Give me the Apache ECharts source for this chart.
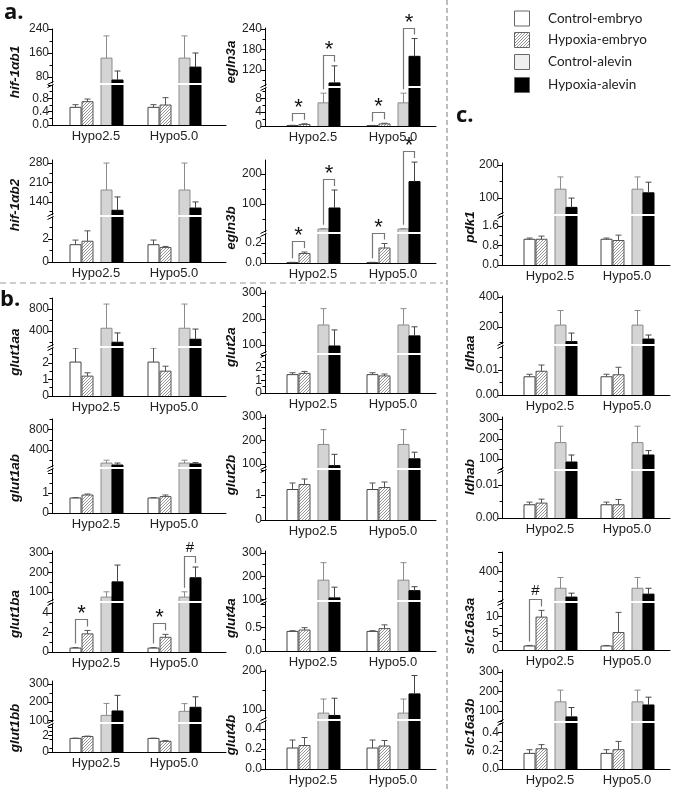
<!DOCTYPE html>
<html><head><meta charset="utf-8">
<script src="https://cdn.jsdelivr.net/npm/echarts@6/dist/echarts.min.js"></script>
<style>html,body{margin:0;padding:0;background:#fff}#c{width:675px;height:792px}</style>
</head><body><div id="c"></div>
<script>
// ---------------- DATA ----------------
const categories = ['Hypo2.5', 'Hypo5.0'];
const groups = ['Control-embryo', 'Hypoxia-embryo', 'Control-alevin', 'Hypoxia-alevin'];

// mean and SD: [Hypo2.5: CE, HE, CA, HA,  Hypo5.0: CE, HE, CA, HA]
const hif1ab1 = [0.53, 0.70, 143, 70, 0.53, 0.60, 143, 113];
const hif1ab1_sd = [0.08, 0.08, 74, 30, 0.08, 0.22, 74, 47];
const hif1ab2 = [1.5, 1.8, 183, 110, 1.5, 1.25, 183, 118];
const hif1ab2_sd = [0.4, 0.9, 97, 48, 0.4, 0.1, 97, 22];
const egln3a = [0.15, 0.45, 6.7, 82, 0.12, 0.6, 6.7, 160];
const egln3a_sd = [0.05, 0.2, 2.8, 50, 0.05, 0.2, 2.8, 52];
const egln3b = [0.005, 0.095, 17, 87, 0.005, 0.15, 17, 175];
const egln3b_sd = [0.002, 0.015, 1, 60, 0.002, 0.045, 1, 65];
const glut1aa = [2.05, 1.2, 450, 195, 2.05, 1.5, 450, 250];
const glut1aa_sd = [0.85, 0.2, 440, 170, 0.85, 0.3, 440, 185];
const glut1ab = [0.75, 0.9, 152, 114, 0.75, 0.82, 152, 135];
const glut1ab_sd = [0.02, 0.05, 55, 38, 0.02, 0.08, 55, 25];
const glut1ba = [0.4, 1.85, 74, 152, 0.4, 1.5, 74, 173];
const glut1ba_sd = [0.05, 0.35, 27, 86, 0.05, 0.3, 27, 55];
const glut1bb = [1.65, 1.88, 128, 152, 1.65, 1.3, 150, 172];
const glut1bb_sd = [0.03, 0.05, 65, 85, 0.03, 0.08, 42, 57];
const glut2a = [1.45, 1.55, 177, 96, 1.45, 1.35, 177, 135];
const glut2a_sd = [0.15, 0.15, 63, 62, 0.15, 0.15, 63, 35];
const glut2b = [1.22, 1.42, 183, 93, 1.22, 1.3, 183, 122];
const glut2b_sd = [0.26, 0.22, 63, 48, 0.26, 0.22, 63, 28];
const glut4a = [0.42, 0.45, 183, 107, 0.42, 0.48, 183, 138];
const glut4a_sd = [0.015, 0.05, 75, 46, 0.015, 0.08, 75, 17];
const glut4b = [0.21, 0.235, 92, 86, 0.21, 0.23, 92, 141];
const glut4b_sd = [0.08, 0.08, 36, 44, 0.08, 0.055, 36, 47];
const pdk1 = [1.05, 1.05, 127, 72, 1.05, 1.0, 127, 116];
const pdk1_sd = [0.05, 0.13, 37, 28, 0.05, 0.22, 37, 32];
const ldhaa = [0.0073, 0.0095, 213, 103, 0.0073, 0.0081, 213, 120];
const ldhaa_sd = [0.001, 0.0025, 97, 57, 0.001, 0.003, 97, 27];
const ldhab = [0.004, 0.0045, 182, 85, 0.004, 0.004, 182, 120];
const ldhab_sd = [0.0008, 0.0012, 82, 35, 0.0008, 0.0016, 82, 22];
const slc16a3a = [1.2, 9.8, 230, 140, 1.2, 5.2, 230, 170];
const slc16a3a_sd = [0.15, 2, 110, 40, 0.15, 6, 110, 60];
const slc16a3b = [0.17, 0.22, 147, 70, 0.17, 0.21, 147, 131];
const slc16a3b_sd = [0.04, 0.045, 60, 48, 0.04, 0.09, 60, 40];

// tick labels: upper (above break) and lower (below break) segments
const hif1ab1_up = [80, 160, 240];     const hif1ab1_lo = [0, 0.4, 0.8];
const hif1ab2_up = [140, 210, 280];    const hif1ab2_lo = [0, 2];
const egln3a_up = [120, 180, 240];     const egln3a_lo = [0, 4, 8];
const egln3b_up = [100, 200];          const egln3b_lo = [0, 0.2];
const glut1aa_up = [400, 800];         const glut1aa_lo = [0, 1, 2];
const glut1ab_up = [400, 800];         const glut1ab_lo = [0, 1];
const glut1ba_up = [100, 200, 300];    const glut1ba_lo = [0, 2, 4];
const glut1bb_up = [100, 200, 300];    const glut1bb_lo = [0, 1, 2];
const glut2a_up = [100, 200, 300];     const glut2a_lo = [0, 1, 2];
const glut2b_up = [100, 200, 300];     const glut2b_lo = [0, 1];
const glut4a_up = [100, 200, 300];     const glut4a_lo = [0, 0.5];
const glut4b_up = [100, 200];          const glut4b_lo = [0, 0.2, 0.4];
const pdk1_up = [100, 200];            const pdk1_lo = [0, 0.8, 1.6];
const ldhaa_up = [200, 400];           const ldhaa_lo = [0, 0.01];
const ldhab_up = [100, 200, 300];      const ldhab_lo = [0, 0.01];
const slc16a3a_up = [400];             const slc16a3a_lo = [0, 5, 10];
const slc16a3b_up = [100, 200, 300];   const slc16a3b_lo = [0, 0.2, 0.4];

// significance marks: [category, bar A, bar B, symbol]
const egln3a_sig = [[0, 0, 1, '*'], [0, 2, 3, '*'], [1, 0, 1, '*'], [1, 2, 3, '*']];
const egln3b_sig = [[0, 0, 1, '*'], [0, 2, 3, '*'], [1, 0, 1, '*'], [1, 2, 3, '*']];
const glut1ba_sig = [[0, 0, 1, '*'], [1, 0, 1, '*'], [1, 2, 3, '#']];
const slc16a3a_sig = [[0, 0, 1, '#']];

// ---------------- LAYOUT ----------------
const COLS = [
  {ax: 52, right: 226, c0: 96, c1: 174, nameX: 15},
  {ax: 265, right: 436, c0: 313, c1: 393, nameX: 231},
  {ax: 502, right: 670, c0: 550, c1: 627, nameX: 470}
];
const P = [
  {n: 'hif-1αb1', m: hif1ab1, s: hif1ab1_sd, col: 0, top: 29, brk: 84, bot: 125, uMin: 60, uMax: 240, lMax: 1.2, uT: hif1ab1_up, lT: hif1ab1_lo, uStep: 80, lStep: 0.4, dec: 1, ny: 72},
  {n: 'hif-1αb2', m: hif1ab2, s: hif1ab2_sd, col: 0, top: 160, brk: 216, bot: 262, uMin: 93, uMax: 291, lMax: 3.9, uT: hif1ab2_up, lT: hif1ab2_lo, uStep: 70, lStep: 2, dec: 0, ny: 205},
  {n: 'egln3a', m: egln3a, s: egln3a_sd, col: 1, top: 28, brk: 87, bot: 126, uMin: 73, uMax: 243, lMax: 11, uT: egln3a_up, lT: egln3a_lo, uStep: 60, lStep: 4, dec: 0, ny: 62, sig: egln3a_sig},
  {n: 'egln3b', m: egln3b, s: egln3b_sd, col: 1, top: 160, brk: 233, bot: 263, uMin: 7, uMax: 247, lMax: 0.29, uT: egln3b_up, lT: egln3b_lo, uStep: 100, lStep: 0.2, dec: 1, ny: 228, sig: egln3b_sig},
  {n: 'glut1aa', m: glut1aa, s: glut1aa_sd, col: 0, top: 298, brk: 347, bot: 396, uMin: 127, uMax: 1000, lMax: 2.9, uT: glut1aa_up, lT: glut1aa_lo, uStep: 400, lStep: 1, dec: 0, ny: 352},
  {n: 'glut1ab', m: glut1ab, s: glut1ab_sd, col: 0, top: 419, brk: 468, bot: 513, uMin: 76, uMax: 1000, lMax: 2.2, uT: glut1ab_up, lT: glut1ab_lo, uStep: 400, lStep: 1, dec: 0, ny: 478},
  {n: 'glut1ba', m: glut1ba, s: glut1ba_sd, col: 0, top: 551, brk: 602, bot: 652, uMin: 54, uMax: 310, lMax: 5, uT: glut1ba_up, lT: glut1ba_lo, uStep: 100, lStep: 2, dec: 0, ny: 614, sig: glut1ba_sig},
  {n: 'glut1bb', m: glut1bb, s: glut1bb_sd, col: 0, top: 681, brk: 723, bot: 752, uMin: 92, uMax: 315, lMax: 3.4, uT: glut1bb_up, lT: glut1bb_lo, uStep: 100, lStep: 1, dec: 0, ny: 728},
  {n: 'glut2a', m: glut2a, s: glut2a_sd, col: 1, top: 291, brk: 354, bot: 393, uMin: 69, uMax: 308, lMax: 3.0, uT: glut2a_up, lT: glut2a_lo, uStep: 100, lStep: 1, dec: 0, ny: 347},
  {n: 'glut2b', m: glut2b, s: glut2b_sd, col: 1, top: 415, brk: 469, bot: 520, uMin: 83, uMax: 308, lMax: 2.0, uT: glut2b_up, lT: glut2b_lo, uStep: 100, lStep: 1, dec: 0, ny: 475},
  {n: 'glut4a', m: glut4a, s: glut4a_sd, col: 1, top: 551, brk: 601, bot: 651, uMin: 98, uMax: 308, lMax: 1.05, uT: glut4a_up, lT: glut4a_lo, uStep: 100, lStep: 0.5, dec: 1, ny: 618},
  {n: 'glut4b', m: glut4b, s: glut4b_sd, col: 1, top: 670, brk: 720, bot: 769, uMin: 77, uMax: 202, lMax: 0.48, uT: glut4b_up, lT: glut4b_lo, uStep: 100, lStep: 0.2, dec: 1, ny: 735},
  {n: 'pdk1', m: pdk1, s: pdk1_sd, col: 2, top: 163, brk: 215, bot: 265, uMin: 52, uMax: 206, lMax: 2.0, uT: pdk1_up, lT: pdk1_lo, uStep: 100, lStep: 0.8, dec: 1, ny: 227},
  {n: 'ldhaa', m: ldhaa, s: ldhaa_sd, col: 2, top: 296, brk: 345, bot: 395, uMin: 87, uMax: 407, lMax: 0.0196, uT: ldhaa_up, lT: ldhaa_lo, uStep: 200, lStep: 0.01, dec: 2, ny: 353},
  {n: 'ldhab', m: ldhab, s: ldhab_sd, col: 2, top: 417, brk: 470, bot: 518, uMin: 50, uMax: 310, lMax: 0.0142, uT: ldhab_up, lT: ldhab_lo, uStep: 100, lStep: 0.01, dec: 2, ny: 477},
  {n: 'slc16a3a', m: slc16a3a, s: slc16a3a_sd, col: 2, top: 552, brk: 602, bot: 650, uMin: 100, uMax: 600, lMax: 14, uT: slc16a3a_up, lT: slc16a3a_lo, uStep: 200, lStep: 5, dec: 0, ny: 626, sig: slc16a3a_sig},
  {n: 'slc16a3b', m: slc16a3b, s: slc16a3b_sd, col: 2, top: 670, brk: 722, bot: 769, uMin: 49, uMax: 310, lMax: 0.5, uT: slc16a3b_up, lT: slc16a3b_lo, uStep: 100, lStep: 0.2, dec: 1, ny: 727}
];

const OFFS = [-21, -9.5, 9.5, 21];
const BW = 11;
const FONT = '"Liberation Sans", Arial, sans-serif';

function makeHatch() {
  const c = document.createElement('canvas');
  c.width = 3; c.height = 3;
  const g = c.getContext('2d');
  g.fillStyle = '#fff'; g.fillRect(0, 0, 3, 3);
  g.strokeStyle = '#7a7a7a'; g.lineWidth = 0.8;
  g.beginPath();
  g.moveTo(0, 3); g.lineTo(3, 0);
  g.moveTo(-1, 1); g.lineTo(1, -1);
  g.moveTo(2, 4); g.lineTo(4, 2);
  g.stroke();
  return c;
}
const hatch = makeHatch();
const FILL = ['#ffffff', {image: hatch, repeat: 'repeat'}, '#d4d4d4', '#000000'];
const STROKE = ['#444', '#555', '#8c8c8c', '#000'];
const ERRC = ['#555', '#555', '#8c8c8c', '#444'];

function ticksFor(min, max, step) {
  const out = [];
  const k0 = Math.ceil(min / step - 1e-9), k1 = Math.floor(max / step + 1e-9);
  for (let k = k0; k <= k1; k++) out.push(+(k * step).toFixed(10));
  return out;
}

function renderBar(params, api) {
  const cat = api.value(0), g = api.value(1), m = api.value(2), s = api.value(3);
  const cs = params.coordSys;
  const yT = cs.y, yB = cs.y + cs.height;
  const base = api.coord([cat, 0]), top = api.coord([cat, m]), err = api.coord([cat, m + s]);
  const cx = Math.round(base[0] + OFFS[g]) + 0.5;
  const x0 = cx - BW / 2, x1 = cx + BW / 2;
  const children = [];
  const t = Math.max(top[1], yT), b = Math.min(base[1], yB);
  if (b - t > 0.1) {
    children.push({type: 'rect', shape: {x: x0, y: t, width: BW, height: b - t}, style: {fill: FILL[g], stroke: null}});
    if (top[1] >= yT) {
      children.push({type: 'polyline', shape: {points: [[x0, b], [x0, t], [x1, t], [x1, b]]}, style: {stroke: STROKE[g], lineWidth: 1, fill: null}});
    } else {
      children.push({type: 'line', shape: {x1: x0, y1: t, x2: x0, y2: b}, style: {stroke: STROKE[g], lineWidth: 1}});
      children.push({type: 'line', shape: {x1: x1, y1: t, x2: x1, y2: b}, style: {stroke: STROKE[g], lineWidth: 1}});
    }
  }
  const e1 = Math.min(Math.max(top[1], yT), yB), e2 = Math.min(Math.max(err[1], yT), yB);
  if (e1 - e2 > 0.1) children.push({type: 'line', shape: {x1: cx, y1: e1, x2: cx, y2: e2}, style: {stroke: ERRC[g], lineWidth: 1}});
  if (err[1] >= yT && err[1] <= yB && s > 0) children.push({type: 'line', shape: {x1: cx - 3, y1: err[1], x2: cx + 3, y2: err[1]}, style: {stroke: ERRC[g], lineWidth: 1}});
  return {type: 'group', children: children};
}

function buildData(p) {
  const d = [];
  for (let c = 0; c < 2; c++) for (let g = 0; g < 4; g++) d.push([c, g, p.m[c * 4 + g], p.s[c * 4 + g]]);
  return d;
}

const grids = [], xAxes = [], yAxes = [], series = [];
P.forEach((p) => {
  const col = COLS[p.col];
  const span = col.c1 - col.c0;
  const xmin = (col.ax - col.c0) / span, xmax = (col.right - col.c0) / span;
  const segs = [
    {top: p.top, h: p.brk - 1 - p.top, min: p.uMin, max: p.uMax, labels: p.uT, step: p.uStep, dec: 0, lower: false},
    {top: p.brk + 1, h: p.bot - p.brk - 1, min: 0, max: p.lMax, labels: p.lT, step: p.lStep, dec: p.dec, lower: true}
  ];
  segs.forEach((sg) => {
    const g = grids.length;
    grids.push({left: col.ax, width: col.right - col.ax, top: sg.top, height: sg.h, containLabel: false, outerBoundsMode: 'none'});
    xAxes.push({
      type: 'value', gridIndex: g, min: xmin, max: xmax, show: sg.lower,
      axisLine: {show: true, onZero: false, lineStyle: {color: '#000', width: 1}},
      axisTick: {show: false}, splitLine: {show: false},
      axisLabel: {customValues: [0, 1], formatter: (v) => categories[Math.round(v)], fontSize: 13, color: '#222', margin: 5, fontFamily: FONT, hideOverlap: false}
    });
    const majors = ticksFor(sg.min, sg.max, sg.step);
    const minors = ticksFor(sg.min, sg.max, sg.step / 2).filter((v) => !majors.some((mm) => Math.abs(mm - v) < 1e-9));
    yAxes.push({
      type: 'value', gridIndex: g, position: 'left', min: sg.min, max: sg.max,
      axisLine: {show: true, onZero: false, lineStyle: {color: '#000', width: 1}},
      splitLine: {show: false},
      axisTick: {show: true, length: 4, customValues: majors, lineStyle: {color: '#000'}},
      axisLabel: {customValues: sg.labels, formatter: (v) => v.toFixed(sg.dec), fontSize: 12, color: '#222', margin: 3, fontFamily: FONT, hideOverlap: false, showMinLabel: true, showMaxLabel: true}
    });
    yAxes.push({
      type: 'value', gridIndex: g, position: 'left', min: sg.min, max: sg.max,
      axisLine: {show: false, onZero: false}, splitLine: {show: false},
      axisTick: {show: minors.length > 0, length: 2.5, customValues: minors.length ? minors : [sg.min], lineStyle: {color: '#000'}},
      axisLabel: {show: false}
    });
    series.push({type: 'custom', xAxisIndex: g, yAxisIndex: 2 * g, renderItem: renderBar, data: buildData(p), clip: true, silent: true, animation: false});
  });
});

const chart = echarts.init(document.getElementById('c'), null, {renderer: 'canvas'});
chart.setOption({animation: false, grid: grids, xAxis: xAxes, yAxis: yAxes, series: series});

// ---------------- ANNOTATIONS ----------------
const els = [];
els.push({type: 'line', shape: {x1: 0, y1: 283, x2: 443, y2: 283}, style: {stroke: '#bdbdbd', lineWidth: 1.5, lineDash: [6, 4]}});
els.push({type: 'line', shape: {x1: 447, y1: 0, x2: 447, y2: 792}, style: {stroke: '#bdbdbd', lineWidth: 2, lineDash: [5, 3]}});
[['a.', 4, 13], ['b.', 0, 300], ['c.', 456, 116]].forEach((l) => {
  els.push({type: 'text', x: l[1], y: l[2], style: {text: l[0], fontSize: 22, fontWeight: 'bold', fontFamily: 'Open Sans', fill: '#111', verticalAlign: 'middle'}});
});
const LEG_Y = [18.5, 40, 62, 85];
groups.forEach((name, i) => {
  els.push({type: 'rect', shape: {x: 514.5, y: LEG_Y[i] - 7.5, width: 15, height: 15}, style: {fill: i === 2 ? '#efefef' : FILL[i], stroke: '#666', lineWidth: 1}});
  els.push({type: 'text', x: 548, y: LEG_Y[i], style: {text: name, fontSize: 13.5, fontFamily: 'Lato', fill: '#222', verticalAlign: 'middle'}});
});

function valPx(pi, cat, v) {
  const p = P[pi];
  const gU = 2 * pi, gL = 2 * pi + 1;
  if (v <= p.lMax) return chart.convertToPixel({xAxisIndex: gL, yAxisIndex: 2 * gL}, [cat, v]);
  return chart.convertToPixel({xAxisIndex: gU, yAxisIndex: 2 * gU}, [cat, Math.max(p.uMin, Math.min(v, p.uMax))]);
}

P.forEach((p, pi) => {
  const col = COLS[p.col];
  els.push({type: 'text', x: col.nameX, y: p.ny, rotation: Math.PI / 2, style: {text: p.n, fontSize: 13.5, fontWeight: 'bold', fontStyle: 'italic', fontFamily: FONT, fill: '#111', align: 'center', verticalAlign: 'middle'}});
  const ax = col.ax + 0.5;
  els.push({type: 'line', shape: {x1: ax - 5, y1: p.brk + 0.5, x2: ax + 1, y2: p.brk - 2.5}, style: {stroke: '#000', lineWidth: 1}});
  els.push({type: 'line', shape: {x1: ax - 5, y1: p.brk + 3.5, x2: ax + 1, y2: p.brk + 0.5}, style: {stroke: '#000', lineWidth: 1}});
  (p.sig || []).forEach((sg) => {
    const cat = sg[0], a = sg[1], b = sg[2];
    const pa = valPx(pi, cat, p.m[cat * 4 + a] + p.s[cat * 4 + a]);
    const pb = valPx(pi, cat, p.m[cat * 4 + b] + p.s[cat * 4 + b]);
    const xa = Math.round(pa[0] + OFFS[a]) + 0.5, xb = Math.round(pb[0] + OFFS[b]) + 0.5;
    const ya = pa[1] - 4, yb = pb[1] - 4;
    const yB = Math.round(Math.min(ya, yb) - 7) + 0.5;
    els.push({type: 'polyline', shape: {points: [[xa, ya], [xa, yB], [xb, yB], [xb, yb]]}, style: {stroke: '#777', lineWidth: 1.2, fill: null}});
    if (sg[3] === '*') {
      els.push({type: 'text', x: (xa + xb) / 2, y: yB - 6, style: {text: '*', fontSize: 22, fontFamily: FONT, fill: '#111', align: 'center', verticalAlign: 'middle'}});
    } else {
      els.push({type: 'text', x: (xa + xb) / 2, y: yB - 9, style: {text: '#', fontSize: 15, fontFamily: FONT, fill: '#111', align: 'center', verticalAlign: 'middle'}});
    }
  });
});

chart.setOption({graphic: {elements: els}});
</script>
</body></html>
